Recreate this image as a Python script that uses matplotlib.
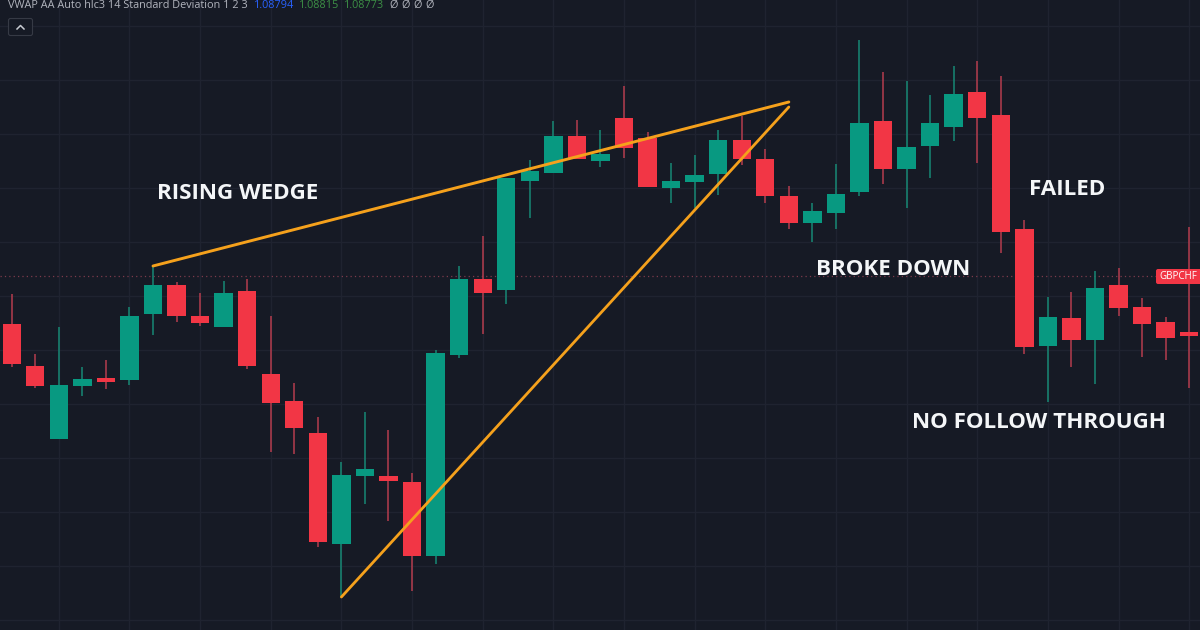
import matplotlib.pyplot as plt
from matplotlib.lines import Line2D
from matplotlib.patches import FancyBboxPatch
from matplotlib.transforms import IdentityTransform
import numpy as np

# candele (scala in punti, 0 = fondo)
opens = [306, 264, 191, 244, 252, 250, 316, 345, 314, 303, 339, 256, 229, 197, 86, 154, 154,
         148, 74, 275, 351, 340, 449, 457, 494, 469, 512, 492, 442, 448, 456, 490, 471, 434,
         407, 417, 438, 509, 461, 484, 503, 538, 515, 401, 284, 312, 290, 345, 323, 308, 298]
highs = [336, 276, 303, 263, 270, 323, 364, 348, 337, 349, 351, 314, 247, 213, 168, 218, 200,
         157, 280, 364, 394, 452, 470, 509, 510, 500, 544, 498, 467, 475, 500, 514, 481, 444,
         427, 466, 590, 558, 549, 535, 564, 569, 554, 410, 333, 338, 359, 362, 332, 313, 403]
lows = [263, 242, 191, 234, 241, 245, 295, 308, 304, 303, 261, 178, 176, 83, 33, 126, 109,
        39, 66, 272, 296, 326, 412, 457, 471, 463, 472, 443, 427, 422, 435, 465, 427, 401,
        388, 401, 434, 446, 422, 452, 489, 467, 377, 276, 228, 263, 246, 314, 273, 270, 242]
closes = [266, 244, 245, 251, 248, 314, 345, 314, 307, 337, 264, 227, 202, 88, 155, 161, 149,
          74, 277, 351, 337, 452, 459, 494, 471, 476, 482, 443, 449, 455, 490, 471, 434, 407,
          419, 436, 507, 461, 483, 507, 536, 512, 398, 283, 313, 290, 342, 322, 306, 292, 294]

wedge_top_x = [6, 33]
wedge_top_y = [364, 528]
wedge_bottom_x = [14, 33]
wedge_bottom_y = [33, 523]
last_price = 354

griglia_y = [10, 64, 118, 172, 226, 280, 334, 388, 442, 496, 550, 604]
griglia_x = list(range(2, 51, 3))

SFONDO = '#161a25'
ROSSO = '#f23645'
VERDE = '#089981'


def px(x, y):
    # da pixel dell'immagine a frazione della figura
    return x / 1200, 1 - y / 630


def main():
    plt.rcParams['font.family'] = ['Open Sans', 'DejaVu Sans']
    fig = plt.figure(figsize=(12, 6.3), dpi=100, facecolor=SFONDO)
    ax = fig.add_axes([0, 0, 1, 1], facecolor=SFONDO)

    x = np.arange(len(opens))
    o = np.array(opens)
    c = np.array(closes)
    colori = np.where(c >= o, VERDE, ROSSO)
    colori_ombra = np.where(c >= o, '#17806f', '#a83a4b')

    ax.vlines(x, lows, highs, colors=colori_ombra, linewidth=1.2, zorder=2)
    ax.bar(x, np.abs(c - o), bottom=np.minimum(o, c), width=0.78, color=colori, zorder=3)

    ax.plot(wedge_top_x, wedge_top_y, color='#f5a11c', linewidth=2.1, solid_capstyle='round', zorder=4)
    ax.plot(wedge_bottom_x, wedge_bottom_y, color='#f5a11c', linewidth=2.0, solid_capstyle='round', zorder=4)

    ax.axhline(last_price, color='#7d3a4c', linewidth=0.9, linestyle=(0, (1, 2.5)), zorder=1)

    ax.set_xlim(-0.497, 50.46)
    ax.set_ylim(0, 630)
    ax.set_xticks(griglia_x)
    ax.set_yticks(griglia_y)
    ax.grid(True, color='#1f2330', linewidth=1, zorder=0)
    ax.set_axisbelow(True)
    ax.tick_params(length=0, labelbottom=False, labelleft=False)
    for s in ax.spines.values():
        s.set_visible(False)

    # scritte
    for testo, xp, yp in [('RISING WEDGE', 238, 193.5), ('FAILED', 1067, 189.5),
                          ('BROKE DOWN', 893, 269.5), ('NO FOLLOW THROUGH', 1039, 422.5)]:
        fig.text(*px(xp, yp), testo, color='#f4f6f8', fontsize=16.1, fontweight='bold',
                 ha='center', va='center')

    # legenda in alto
    for testo, xp, col in [('VWAP AA Auto hlc3 14 Standard Deviation 1 2 3', 8, '#b2b5be'),
                           ('1.08794', 254, '#2962ff'), ('1.08815', 299, '#3c8f45'),
                           ('1.08773', 344, '#3c8f45'), ('\u00d8', 389, '#b2b5be'),
                           ('\u00d8', 401, '#b2b5be'), ('\u00d8', 413, '#b2b5be'),
                           ('\u00d8', 425, '#b2b5be')]:
        fig.text(*px(xp, 5), testo, color=col, fontsize=7.8, ha='left', va='center')

    # bottone (coordinate in pixel)
    pix = IdentityTransform()
    fig.add_artist(FancyBboxPatch((8.5, 630 - 35.5), 24, 17, boxstyle='round,pad=0,rounding_size=2',
                                  transform=pix, facecolor=SFONDO, edgecolor='#363a45', linewidth=0.8))
    fig.add_artist(Line2D([17, 20.5, 24], [630 - 29, 630 - 25.5, 630 - 29], color='#c8cbd2',
                          linewidth=1.1, transform=pix))

    # etichetta simbolo
    fig.add_artist(FancyBboxPatch((1156, 630 - 284), 48, 15, boxstyle='round,pad=0,rounding_size=2',
                                  transform=pix, facecolor=ROSSO, edgecolor='none'))
    fig.text(*px(1178, 276.5), 'GBPCHF', color='white', fontsize=7, ha='center', va='center')

    fig.savefig('out.png', dpi=100, facecolor=SFONDO)


if __name__ == "__main__":
    main()
